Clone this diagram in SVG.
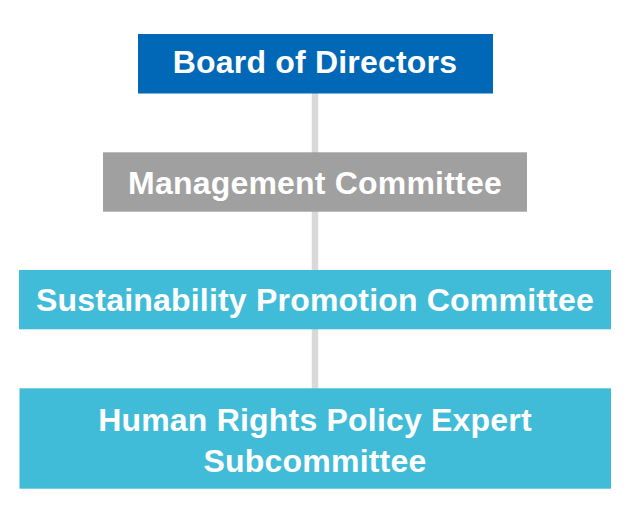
<svg xmlns="http://www.w3.org/2000/svg" width="630" height="520" viewBox="0 0 630 520">
<style>
.lbl{font-family:"Liberation Sans",Arial,sans-serif;font-weight:bold;font-size:32px;letter-spacing:0.2px;fill:#ffffff;text-anchor:middle}
.conn{stroke:#d9d9d9;stroke-width:6.5;fill:none}
</style>
<rect width="630" height="520" fill="#ffffff"/>
<g id="connectors">
<line class="conn" x1="315" y1="93" x2="315" y2="389"/>
</g>
<g id="board">
<rect x="138" y="34" width="355" height="59.5" fill="#0068b7"/>
<text class="lbl" x="315" y="73">Board of Directors</text>
</g>
<g id="management">
<rect x="103" y="152.3" width="424" height="59.4" fill="#a0a0a0"/>
<text class="lbl" x="315" y="193.8">Management Committee</text>
</g>
<g id="sustainability">
<rect x="19" y="270" width="592" height="59.3" fill="#41bcd8"/>
<text class="lbl" x="315" y="310.7">Sustainability Promotion Committee</text>
</g>
<g id="human-rights">
<rect x="19.5" y="388.3" width="591.5" height="100.4" fill="#41bcd8"/>
<text class="lbl" x="315" y="430.7">Human Rights Policy Expert</text>
<text class="lbl" x="315" y="472.3">Subcommittee</text>
</g>
</svg>
